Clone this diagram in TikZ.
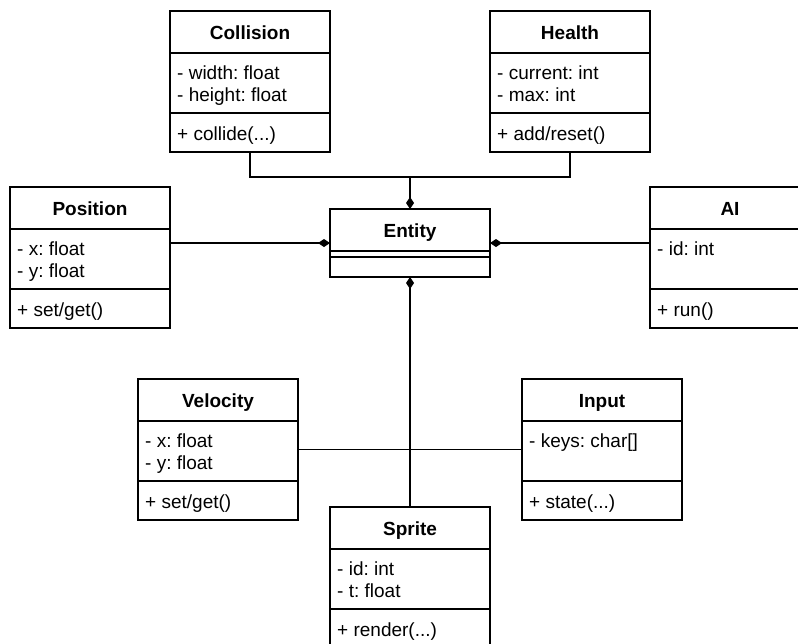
\documentclass[tikz,border=0pt]{standalone}
\usepackage{fontspec}
\setmainfont{Liberation Sans}
\usetikzlibrary{calc}
\usetikzlibrary{arrows.meta}
\frenchspacing

\begin{document}
\begin{tikzpicture}[x=1pt,y=-1pt]

\colorlet{boxcolor}{black}

\def\boxw{160}
\def\boxh{141}
\def\headh{42}
\def\attrh{60}
\def\textin{7}

\tikzset{
  umlbox/.style={draw=boxcolor,line width=1.2pt,fill=white,minimum width=\boxw pt,minimum height=\boxh pt,inner sep=0pt,outer sep=0pt,anchor=north west},
  boxline/.style={draw=boxcolor,line width=1.2pt},
  titletext/.style={font=\bfseries\fontsize{19}{22}\selectfont,anchor=base,inner sep=0pt},
  fieldtext/.style={font=\fontsize{19}{22}\selectfont,anchor=base west,inner sep=0pt},
  link/.style={draw=boxcolor,line width=1.3pt},
  trunk/.style={link,line width=1.8pt},
  compos/.style={-{Diamond[length=12pt,width=8pt]}}
}

% one class box: name, top left corner, title, two fields, one operation
\newcommand{\umlclass}[6]{%
  \node[umlbox] (#1) at (#2) {};
  \coordinate (#1-attr) at ($(#1.north west)+(0,\headh)$);
  \coordinate (#1-ops) at ($(#1-attr)+(0,\attrh)$);
  \draw[boxline] (#1-attr) -- ++(\boxw,0);
  \draw[boxline] (#1-ops) -- ++(\boxw,0);
  \node[titletext] (#1-title) at ($(#1.north)+(0,28)$) {#3};
  \node[fieldtext] (#1-fa) at ($(#1-attr)+(\textin,26)$) {#4};
  \if\relax\detokenize{#5}\relax\else
    \node[fieldtext] (#1-fb) at ($(#1-attr)+(\textin,48)$) {#5};
  \fi
  \node[fieldtext] (#1-op) at ($(#1-ops)+(\textin,27)$) {#6};
}

\useasboundingbox (0,0) rectangle (798,643);
\clip (0,0) rectangle (798,643);

% DRAW THE ENTITY
\node[umlbox,minimum height=68pt] (entity) at (330,209) {};
\draw[boxline] ($(entity.north west)+(0,42)$) -- ++(\boxw,0);
\draw[boxline] ($(entity.north west)+(0,48)$) -- ++(\boxw,0);
\node[titletext] (entity-title) at ($(entity.north)+(0,28)$) {Entity};

% DRAW THE COMPONENTS
\umlclass{collision}{170,11}{Collision}{- width: float}{- height: float}{+ collide(...)}
\umlclass{health}{490,11}{Health}{- current: int}{- max: int}{+ add/reset()}
\umlclass{position}{10,187}{Position}{- x: float}{- y: float}{+ set/get()}
\umlclass{ai}{650,187}{AI}{- id: int}{}{+ run()}
\umlclass{velocity}{138,379}{Velocity}{- x: float}{- y: float}{+ set/get()}
\umlclass{input}{522,379}{Input}{- keys: char[]}{}{+ state(...)}
\umlclass{sprite}{330,507}{Sprite}{- id: int}{- t: float}{+ render(...)}

% DRAW THE COMPOSITION LINKS
\coordinate (topjoin) at ($(entity.north)+(0,-32)$);
\draw[link] (collision.south) |- (topjoin) -| (health.south);
\draw[trunk,compos] (topjoin) -- (entity.north);

\draw[link,compos] (position.east |- entity.west) -- (entity.west);
\draw[link,compos] (ai.west |- entity.east) -- (entity.east);

\coordinate (lowjoin) at (entity.south |- velocity.east);
\draw[link] (velocity.east) -- (lowjoin) -- (input.west);
\draw[trunk,compos] (sprite.north) -- (entity.south);

\end{tikzpicture}
\end{document}
